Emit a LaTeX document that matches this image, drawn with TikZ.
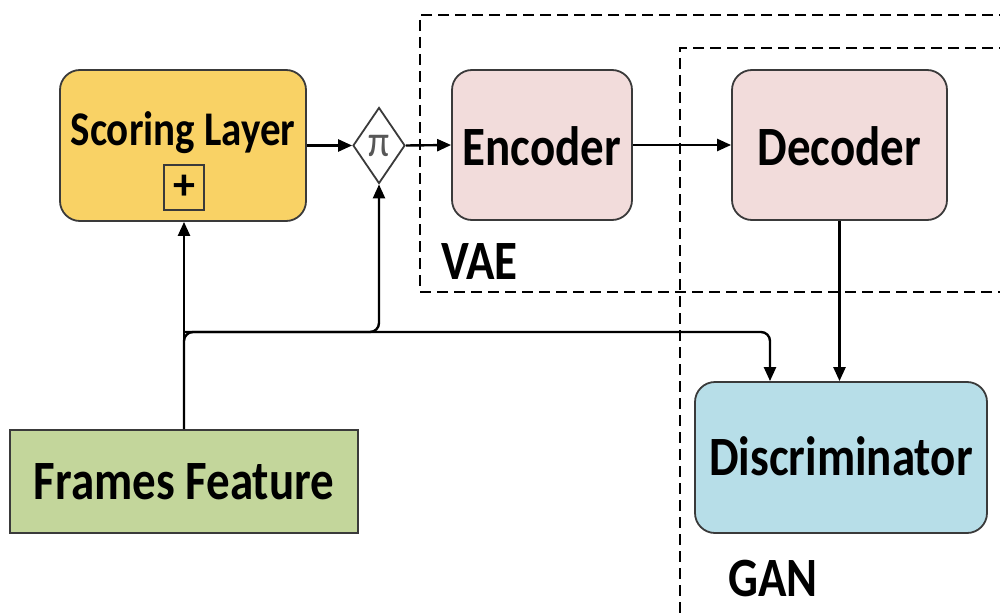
\documentclass[tikz,border=0pt]{standalone}
\usepackage{fontspec}
\usepackage{graphicx}
\setmainfont{Carlito}
\usetikzlibrary{arrows.meta,shapes.geometric}
\definecolor{scorefill}{HTML}{F9D265}
\definecolor{codefill}{HTML}{F2DCDB}
\definecolor{discfill}{HTML}{B7DEE8}
\definecolor{featfill}{HTML}{C3D69B}
\definecolor{edge}{HTML}{3A3A3A}
% labels are set a little taller than the font's natural shape
\newcommand{\talltext}[1]{\scalebox{1}[1.18]{#1}}
\tikzset{
  block/.style={draw=edge, line width=1.8pt, rounded corners=20pt, inner sep=0pt},
  flat/.style={draw=edge, line width=1.8pt, inner sep=0pt},
  big/.style={font=\fontsize{47}{50}\selectfont\bfseries, inner sep=0pt},
  arr/.style={line width=2.4pt, -{Triangle[length=14pt,width=12pt]}},
  group/.style={dash pattern=on 11pt off 6pt, line width=1.8pt},
}
\begin{document}
\begin{tikzpicture}[x=1pt,y=-1pt]
\useasboundingbox (0,0) rectangle (1000,615);
\clip (0,0) rectangle (1000,615);

% dashed group frames
\draw[group] (1010,15) -- (420,15) -- (420,292) -- (1010,292);
\draw[group] (1010,48) -- (680,48) -- (680,630);
\node[big, anchor=west] (vae) at (441,262) {\talltext{VAE}};
\node[big, anchor=west] (gan) at (728,578) {\talltext{GAN}};

% scoring layer
\node[block, fill=scorefill, minimum width=246pt, minimum height=151pt] (score) at (183,145.5) {};
\node[font=\fontsize{41}{44}\selectfont\bfseries, inner sep=0pt] (scoretxt) at (183,133) {\talltext{Scoring Layer}};
\node[flat, line width=2pt, minimum width=40pt, minimum height=45pt, font=\fontsize{44}{44}\selectfont\bfseries] (plus) at (184,187) {+};

% product node
\node[draw=edge, line width=1.8pt, diamond, minimum width=52pt, minimum height=76pt, inner sep=0pt, fill=white] (pi) at (379,145.5) {};
\node[font=\fontsize{38}{38}\selectfont, text=edge!85, inner sep=0pt] (pitxt) at (379,146) {\talltext{π}};

% encoder / decoder
\node[block, fill=codefill, minimum width=180pt, minimum height=150pt] (enc) at (542,145) {};
\node[big] (enctxt) at (542,146) {\talltext{Encoder}};
\node[block, fill=codefill, minimum width=215pt, minimum height=150pt] (dec) at (839.5,145) {};
\node[big] (dectxt) at (839.5,146) {\talltext{Decoder}};

% discriminator
\node[block, fill=discfill, minimum width=292pt, minimum height=151pt] (disc) at (841,457.5) {};
\node[big] (disctxt) at (841,456) {\talltext{Discriminator}};

% frames feature
\node[flat, fill=featfill, minimum width=348pt, minimum height=103pt] (feat) at (184,481.5) {};
\node[big] (feattxt) at (184,482) {\talltext{Frames Feature}};

% connectors
\coordinate (bus) at (184,332);
\coordinate (drop) at (770,332);
\draw[arr] (score.east) -- (pi.west);
\draw[arr] (pi.east) -- (enc.west);
\draw[arr] (enc.east) -- (dec.west);
\draw[arr] (dec.south) -- (dec.south |- disc.north);
\draw[arr] (feat.north) -- (feat.north |- score.south);
\draw[arr, rounded corners=9pt] (feat.north) -- (bus) -- (bus -| pi.south) -- (pi.south);
\draw[arr, rounded corners=9pt] (bus) -- (drop) -- (drop |- disc.north);
\end{tikzpicture}
\end{document}
